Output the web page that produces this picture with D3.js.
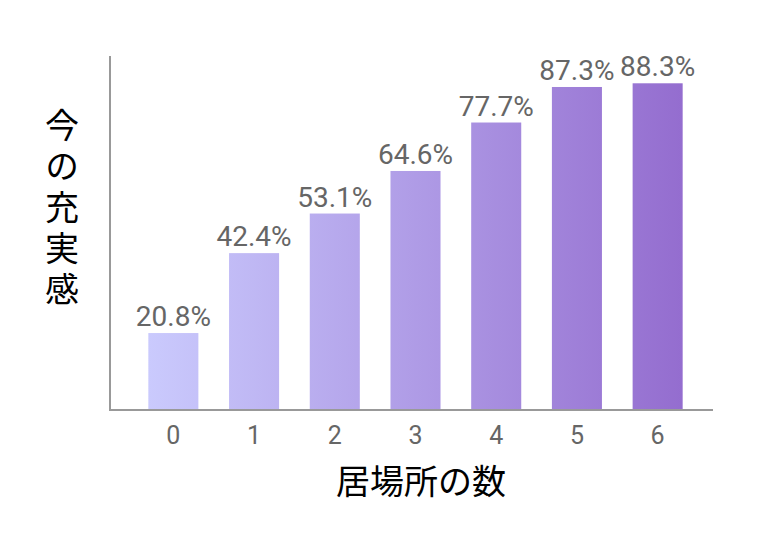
<!DOCTYPE html>
<html>
<head>
<meta charset="utf-8">
<script src="https://cdn.jsdelivr.net/npm/d3@7"></script>
<style>
  body { margin: 0; background: #fff; }
  #chart { width: 760px; height: 540px; }
  .val { font-family: Roboto, "Noto Sans", sans-serif; fill: #666; font-size: 28px; }
  .tick text { font-family: Roboto, "Noto Sans", sans-serif; fill: #666; font-size: 25px; }
  .title { font-family: "Noto Sans CJK JP", sans-serif; fill: #000; font-size: 34px; }
</style>
</head>
<body>
<div id="chart"></div>
<script>
// data
const categories = ["0", "1", "2", "3", "4", "5", "6"];
const values = [20.8, 42.4, 53.1, 64.6, 77.7, 87.3, 88.3];
const xTitle = "居場所の数";
const yTitle = "今の充実感";

const width = 760, height = 540;
const svg = d3.select("#chart").append("svg")
    .attr("width", width)
    .attr("height", height);

//scales
const xScale = d3.scaleBand()
    .domain(categories)
    .range([133, 698])
    .paddingInner(0.38)
    .paddingOuter(0.19);
const yScale = d3.scaleLinear()
    .domain([0, 100])
    .range([410, 40]);

//gradient over the whole plot
const grad = svg.append("defs").append("linearGradient")
    .attr("id", "barGrad")
    .attr("gradientUnits", "userSpaceOnUse")
    .attr("x1", xScale(categories[0])).attr("x2", xScale(categories[6]) + xScale.bandwidth())
    .attr("y1", 0).attr("y2", 0);
grad.append("stop").attr("offset", "0%").attr("stop-color", "#cacafd");
grad.append("stop").attr("offset", "100%").attr("stop-color", "#946dcf");

//bars
svg.selectAll("rect.bar")
    .data(values)
    .enter()
    .append("rect")
        .attr("class", "bar")
        .attr("x", (d, i) => xScale(categories[i]))
        .attr("y", d => yScale(d))
        .attr("width", xScale.bandwidth())
        .attr("height", d => yScale(0) - yScale(d))
        .attr("fill", "url(#barGrad)");

//value labels
svg.selectAll("text.val")
    .data(values)
    .enter()
    .append("text")
        .attr("class", "val")
        .attr("x", (d, i) => xScale(categories[i]) + xScale.bandwidth() / 2)
        .attr("y", d => yScale(d) - 7)
        .attr("text-anchor", "middle")
        .text(d => d.toFixed(1) + "%");

//axes
const xAxis = svg.append("g")
    .attr("transform", `translate(0,${yScale(0)})`)
    .call(d3.axisBottom(xScale).tickSize(0).tickPadding(16));
xAxis.select(".domain").remove();
xAxis.selectAll(".tick text").attr("dy", "0.71em");

svg.append("line")
    .attr("x1", 109).attr("x2", 713)
    .attr("y1", yScale(0)).attr("y2", yScale(0))
    .attr("stroke", "#999").attr("stroke-width", 2);
svg.append("line")
    .attr("x1", 110).attr("x2", 110)
    .attr("y1", 56).attr("y2", yScale(0))
    .attr("stroke", "#999").attr("stroke-width", 2);

//titles
svg.append("text")
    .attr("class", "title")
    .attr("x", 421)
    .attr("y", 494)
    .attr("text-anchor", "middle")
    .text(xTitle);

// vertical y title, one text
svg.append("text")
    .attr("class", "title")
    .attr("x", 62)
    .attr("y", 108)
    .style("writing-mode", "vertical-rl")
    .style("text-orientation", "upright")
    .style("letter-spacing", "7px")
    .text(yTitle);
</script>
</body>
</html>
